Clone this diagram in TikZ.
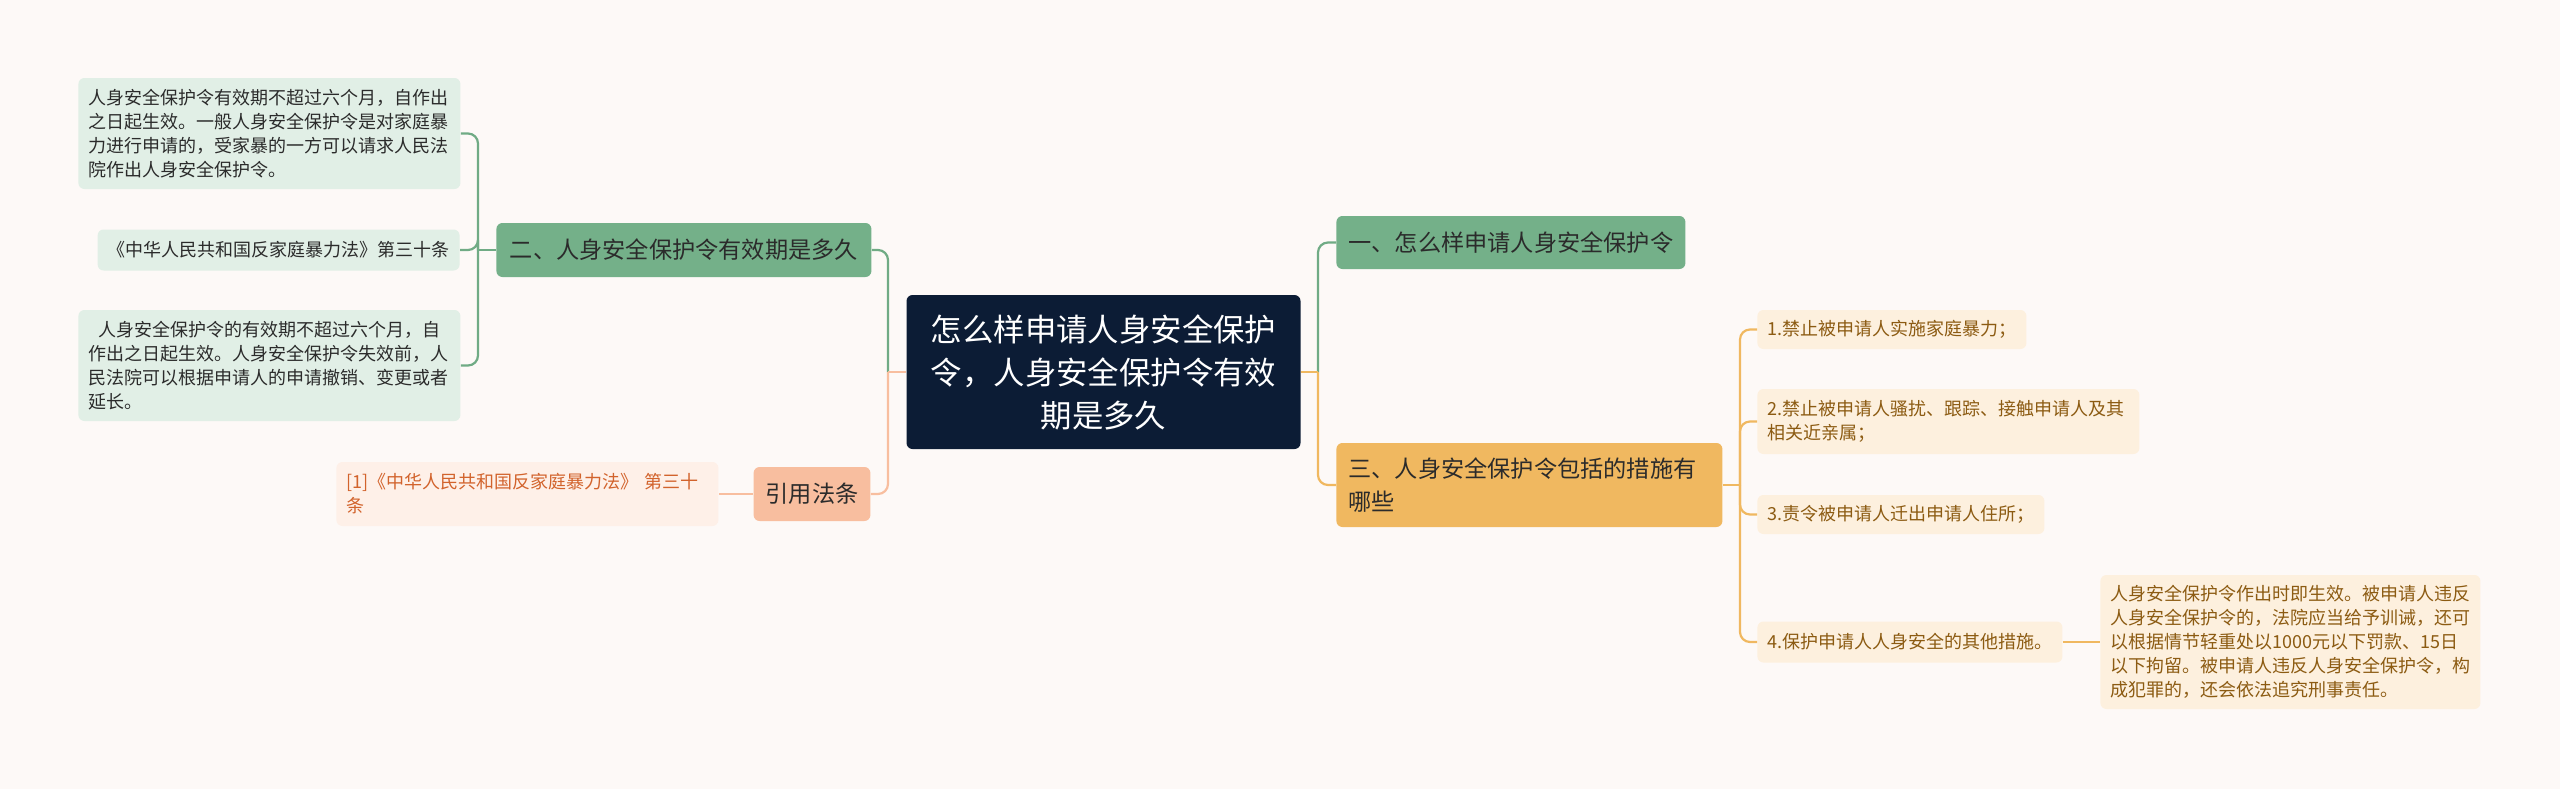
\documentclass[tikz,border=0pt]{standalone}
\usepackage{fontspec}
\setmainfont{Noto Sans CJK SC}
\usepackage{tikz}

\definecolor{bgpaper}{HTML}{FDF9F7}
\definecolor{rootfill}{HTML}{0C1C35}
\definecolor{greenfill}{HTML}{74B089}
\definecolor{greenleaf}{HTML}{E1EFE6}
\definecolor{greenline}{HTML}{70AB85}
\definecolor{salmonfill}{HTML}{F8BE9F}
\definecolor{salmonleaf}{HTML}{FEF0E8}
\definecolor{salmontext}{HTML}{D2632C}
\definecolor{orangefill}{HTML}{F0B860}
\definecolor{orangeleaf}{HTML}{FDF0DE}
\definecolor{orangetext}{HTML}{8C5B12}
\definecolor{darktext}{HTML}{2B2B2B}

\begin{document}
\begin{tikzpicture}[x=0.5pt, y=-0.5pt,
  rootbox/.style={fill=rootfill, text=white, rounded corners=3pt, align=center,
    text width=187pt, minimum height=77pt, inner xsep=5pt,
    font=\fontsize{15.7}{21.5}\selectfont},
  branchbox/.style={rounded corners=3pt, text=darktext, align=left, inner xsep=6pt,
    font=\fontsize{11.6}{16.3}\selectfont},
  leafbox/.style={rounded corners=3pt, align=left, inner xsep=5pt,
    font=\fontsize{9}{12}\selectfont},
  glink/.style={draw=greenline, line width=1.1pt},
  slink/.style={draw=salmonfill, line width=1.1pt},
  olink/.style={draw=orangefill, line width=1.1pt}]
\fill[bgpaper] (0,0) rectangle (2560,789);
\useasboundingbox (0,0) rectangle (2560,789);

\node[rootbox] (root) at (1103.5,372) {怎么样申请人身安全保护\\令，人身安全保护令有效\\期是多久};

\node[branchbox, fill=greenfill, anchor=west, minimum height=27pt, minimum width=187.5pt] (b2) at (496,250) {二、人身安全保护令有效期是多久};
\node[branchbox, fill=salmonfill, anchor=center, minimum height=27pt, minimum width=58pt] (cite) at (812,494) {引用法条};
\node[branchbox, fill=greenfill, anchor=west, minimum height=26.5pt, minimum width=174.5pt] (b1) at (1336,242.5) {一、怎么样申请人身安全保护令};
\node[branchbox, fill=orangefill, anchor=west, minimum height=42pt, text width=181pt] (b3) at (1336,485) {三、人身安全保护令包括的措施有\\哪些};

\node[leafbox, fill=greenleaf, text=darktext, anchor=west, text width=181pt, minimum height=55.5pt] (l1) at (78,133.5) {人身安全保护令有效期不超过六个月，自作出\\之日起生效。一般人身安全保护令是对家庭暴\\力进行申请的，受家暴的一方可以请求人民法\\院作出人身安全保护令。};
\node[leafbox, fill=greenleaf, text=darktext, anchor=east, minimum height=20.5pt] (l2) at (460,250) {《中华人民共和国反家庭暴力法》第三十条};
\node[leafbox, fill=greenleaf, text=darktext, anchor=west, text width=181pt, minimum height=55.5pt] (l3) at (78,365.5) {\hspace*{5pt}人身安全保护令的有效期不超过六个月，自\\作出之日起生效。人身安全保护令失效前，人\\民法院可以根据申请人的申请撤销、变更或者\\延长。};
\node[leafbox, fill=salmonleaf, text=salmontext, anchor=west, text width=181pt, minimum height=32pt] (citeleaf) at (336,494) {[1]《中华人民共和国反家庭暴力法》 第三十\\条};

\node[leafbox, fill=orangeleaf, text=orangetext, anchor=west, minimum height=19.5pt] (r1) at (1757,329.5) {1.禁止被申请人实施家庭暴力；};
\node[leafbox, fill=orangeleaf, text=orangetext, anchor=west, text width=181pt, minimum height=32.5pt] (r2) at (1757,421.5) {2.禁止被申请人骚扰、跟踪、接触申请人及其\\相关近亲属；};
\node[leafbox, fill=orangeleaf, text=orangetext, anchor=west, minimum height=19.5pt] (r3) at (1757,514.5) {3.责令被申请人迁出申请人住所；};
\node[leafbox, fill=orangeleaf, text=orangetext, anchor=west, minimum height=20.5pt] (r4) at (1757,642) {4.保护申请人人身安全的其他措施。};
\node[leafbox, fill=orangeleaf, text=orangetext, anchor=west, text width=180pt, minimum height=67pt] (r4note) at (2100,642) {人身安全保护令作出时即生效。被申请人违反\\人身安全保护令的，法院应当给予训诫，还可\\以根据情节轻重处以1000元以下罚款、15日\\以下拘留。被申请人违反人身安全保护令，构\\成犯罪的，还会依法追究刑事责任。};

\coordinate (lt) at (888,372);
\coordinate (rt) at (1318,372);
\coordinate (t2) at (478,250);
\coordinate (t3) at (1740,485);

\draw[glink, rounded corners=5pt] (lt) |- (b2.east);
\draw[slink] (root.west) -- (lt);
\draw[slink, rounded corners=5pt] (lt) |- (cite.east);
\draw[slink] (cite.west) -- (citeleaf.east);

\draw[glink, rounded corners=5pt] (rt) |- (b1.west);
\draw[olink] (root.east) -- (rt);
\draw[olink, rounded corners=5pt] (rt) |- (b3.west);

\draw[glink] (b2.west) -- (t2);
\draw[glink, rounded corners=5pt] (t2) |- (l1.east);
\draw[glink, rounded corners=5pt] (t2) |- (l2.east);
\draw[glink, rounded corners=5pt] (t2) |- (l3.east);

\draw[olink] (b3.east) -- (t3);
\draw[olink, rounded corners=5pt] (t3) |- (r1.west);
\draw[olink, rounded corners=5pt] (t3) |- (r2.west);
\draw[olink, rounded corners=5pt] (t3) |- (r3.west);
\draw[olink, rounded corners=5pt] (t3) |- (r4.west);
\draw[olink] (r4.east) -- (r4note.west);
\end{tikzpicture}
\end{document}
